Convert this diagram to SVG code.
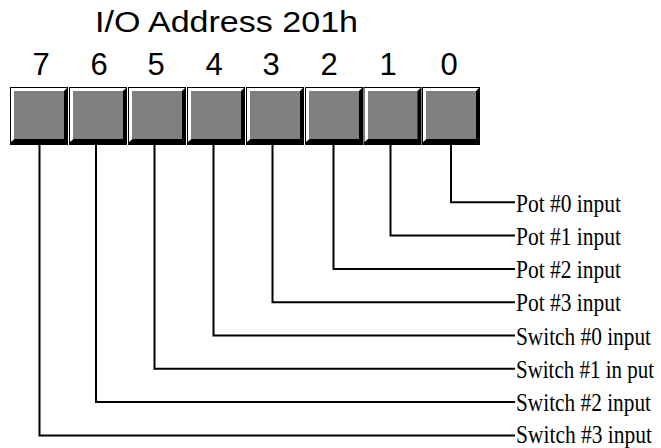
<svg xmlns="http://www.w3.org/2000/svg" width="661" height="448" viewBox="0 0 661 448">
<style>
.title{font-family:"Liberation Sans",Arial,sans-serif;font-size:29px;fill:#000}
.digit{font-family:"Liberation Sans",Arial,sans-serif;font-size:31px;fill:#000;text-anchor:middle}
.lbl{font-family:"Liberation Serif","Times New Roman",serif;font-size:25px;fill:#000}
.wire{fill:none;stroke:#000;stroke-width:2}
.outer{fill:#000}
.hl{fill:#fff}
.face{fill:#808080}
</style>
<defs>
<g id="bitbox">
<rect class="outer" x="0" y="0" width="58" height="58"/>
<polygon class="hl" points="1,1 57,1 54,4 4.5,4 4.5,52 1,55"/>
<rect class="face" x="4.5" y="4" width="49.5" height="48"/>
</g>
</defs>
<text class="title" x="95" y="32" textLength="263" lengthAdjust="spacingAndGlyphs">I/O Address 201h</text>
<g id="bit7"><use href="#bitbox" x="10" y="87"/><text class="digit" x="41" y="75">7</text></g>
<g id="bit6"><use href="#bitbox" x="69" y="87"/><text class="digit" x="99" y="75">6</text></g>
<g id="bit5"><use href="#bitbox" x="128" y="87"/><text class="digit" x="156" y="75">5</text></g>
<g id="bit4"><use href="#bitbox" x="187" y="87"/><text class="digit" x="214" y="75">4</text></g>
<g id="bit3"><use href="#bitbox" x="246" y="87"/><text class="digit" x="271" y="75">3</text></g>
<g id="bit2"><use href="#bitbox" x="305" y="87"/><text class="digit" x="329" y="75">2</text></g>
<g id="bit1"><use href="#bitbox" x="363.5" y="87"/><text class="digit" x="388" y="75">1</text></g>
<g id="bit0"><use href="#bitbox" x="422" y="87"/><text class="digit" x="449" y="75">0</text></g>
<g id="connectors">
<polyline class="wire" points="451,145 451,202.3 515,202.3"/>
<polyline class="wire" points="390.5,145 390.5,235.6 515,235.6"/>
<polyline class="wire" points="333.5,145 333.5,268.9 515,268.9"/>
<polyline class="wire" points="272.5,145 272.5,302.2 515,302.2"/>
<polyline class="wire" points="213.5,145 213.5,335.5 515,335.5"/>
<polyline class="wire" points="154.5,145 154.5,368.8 515,368.8"/>
<polyline class="wire" points="96,145 96,402.1 515,402.1"/>
<polyline class="wire" points="39.5,145 39.5,435.4 515,435.4"/>
</g>
<g id="labels">
<text class="lbl" transform="translate(516,211.5) scale(0.84,1)" textLength="125" lengthAdjust="spacingAndGlyphs">Pot #0 input</text>
<text class="lbl" transform="translate(516,244.8) scale(0.84,1)" textLength="125" lengthAdjust="spacingAndGlyphs">Pot #1 input</text>
<text class="lbl" transform="translate(516,278.1) scale(0.84,1)" textLength="125" lengthAdjust="spacingAndGlyphs">Pot #2 input</text>
<text class="lbl" transform="translate(516,311.4) scale(0.84,1)" textLength="125" lengthAdjust="spacingAndGlyphs">Pot #3 input</text>
<text class="lbl" transform="translate(516,344.7) scale(0.84,1)" textLength="160.7" lengthAdjust="spacingAndGlyphs">Switch #0 input</text>
<text class="lbl" transform="translate(516,378) scale(0.84,1)" textLength="164.3" lengthAdjust="spacingAndGlyphs">Switch #1 in put</text>
<text class="lbl" transform="translate(516,411.3) scale(0.84,1)" textLength="160.7" lengthAdjust="spacingAndGlyphs">Switch #2 input</text>
<text class="lbl" transform="translate(516,443) scale(0.84,1)" textLength="161.9" lengthAdjust="spacingAndGlyphs">Switch #3 input</text>
</g>
</svg>
